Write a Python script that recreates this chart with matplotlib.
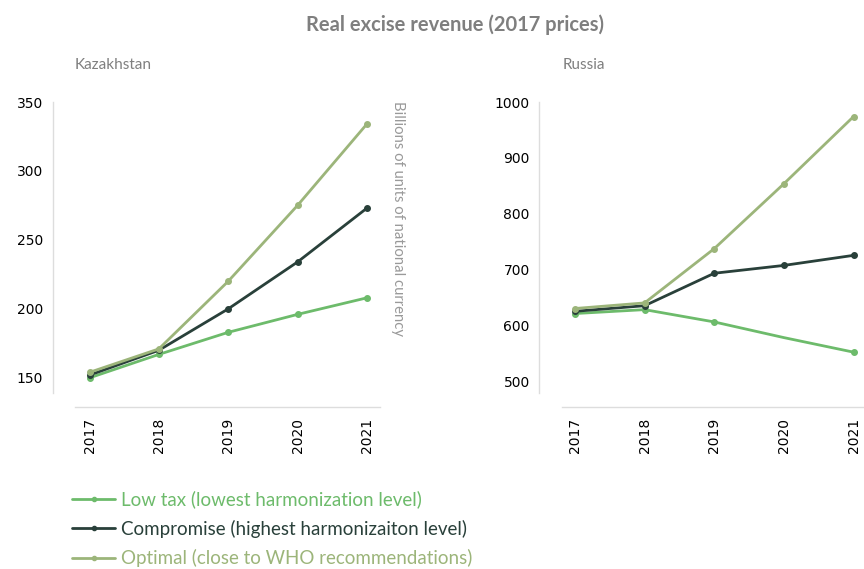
import matplotlib
matplotlib.use("Agg")
import matplotlib.pyplot as plt

years = [2017, 2018, 2019, 2020, 2021]

kz_low = [150, 167, 183, 196, 208]
kz_compromise = [152, 170, 200, 234, 273]
kz_optimal = [154, 171, 220, 275, 334]

ru_low = [622, 629, 607, 579, 553]
ru_compromise = [626, 636, 694, 708, 726]
ru_optimal = [631, 641, 738, 854, 974]

series_names = [
    "Low tax (lowest harmonization level)",
    "Compromise (highest harmonizaiton level)",
    "Optimal (close to WHO recommendations)",
]
colors = ["#6dbb6b", "#29403a", "#9cb57a"]

fig = plt.figure(figsize=(8.64, 5.69), dpi=100)
ax_kz = fig.add_axes([0.0868, 0.3093, 0.353, 0.5114])
ax_ru = fig.add_axes([0.6501, 0.3093, 0.3499, 0.5114])

panels = [
    (ax_kz, [kz_low, kz_compromise, kz_optimal], (139, 350), [150, 200, 250, 300, 350], (2016.79, 2021.19)),
    (ax_ru, [ru_low, ru_compromise, ru_optimal], (480, 1000), [500, 600, 700, 800, 900, 1000], (2016.81, 2021.15)),
]

handles = []
for ax, data, ylim, yticks, xlim in panels:
    handles = []
    for i, (vals, col, name) in enumerate(zip(data, colors, series_names)):
        every = None
        if ax is ax_ru and i == 0:
            every = [0, 1, 2, 4]
        (ln,) = ax.plot(years, vals, color=col, lw=2, marker="o", markersize=4,
                        markevery=every, label=name, solid_capstyle="round")
        handles.append(ln)
    ax.set_ylim(*ylim)
    ax.set_xlim(*xlim)
    ax.set_yticks(yticks)
    ax.set_xticks(years)
    ax.tick_params(axis="both", length=0)
    ax.tick_params(axis="y", pad=7)
    ax.tick_params(axis="x", pad=8, labelrotation=90)
    for lab in ax.get_xticklabels():
        lab.set_fontfamily("Liberation Sans")
        lab.set_fontsize(12)
        lab.set_color("#222222")
    for lab in ax.get_yticklabels():
        lab.set_fontfamily("Lato")
        lab.set_fontsize(12.5)
        lab.set_color("#222222")
    ax.spines["top"].set_visible(False)
    ax.spines["right"].set_visible(False)
    ax.spines["left"].set_position(("outward", 16))
    ax.spines["bottom"].set_position(("outward", 10))
    ax.spines["left"].set_color("#dddddd")
    ax.spines["bottom"].set_color("#dddddd")
    ax.spines["left"].set_linewidth(1)
    ax.spines["bottom"].set_linewidth(1)

fig.text(0.527, 0.956, "Real excise revenue (2017 prices)", ha="center", va="center",
         fontfamily="Lato", fontweight="bold", fontsize=14.5, color="#7f7f7f")
fig.text(0.0868, 0.886, "Kazakhstan", ha="left", va="center",
         fontfamily="Lato", fontsize=11, color="#7f7f7f")
fig.text(0.6516, 0.886, "Russia", ha="left", va="center",
         fontfamily="Lato", fontsize=11, color="#7f7f7f")
fig.text(0.4606, 0.822, "Billions of units of national currency", rotation=270,
         ha="center", va="top", fontfamily="Lato", fontsize=10.7, color="#999999")

leg = fig.legend(handles=handles, loc="upper left", bbox_to_anchor=(0.075, 0.151),
                 frameon=False, handlelength=2.3, handletextpad=0.3,
                 labelspacing=0.6, borderaxespad=0,
                 prop={"family": "Lato", "size": 13.5})
for txt, col in zip(leg.get_texts(), colors):
    txt.set_color(col)
for h in leg.legend_handles:
    h.set_markersize(3)

fig.savefig("out.png", dpi=100)
